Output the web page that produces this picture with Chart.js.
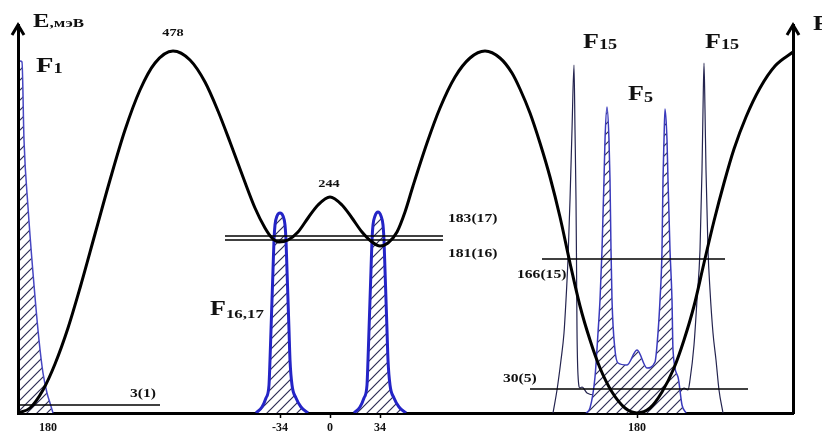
<!DOCTYPE html>
<html lang="ru">
<head>
<meta charset="UTF-8">
<title>Потенциал и распределения</title>
<script src="https://cdn.jsdelivr.net/npm/chart.js"></script>
<style>
  html, body { margin: 0; padding: 0; background: #fff; }
  #wrap { width: 822px; height: 433px; }
</style>
</head>
<body>
<div id="wrap"><canvas id="grafico"></canvas></div>
<script>
// схема: x - угол (условные единицы), y - энергия (условные единицы)
const tickPos = [30, 262, 312, 362, 619];
const tickText = ['180', '-34', '0', '34', '180'];

// потенциальная кривая
const potX = [0,12,25,37,50,62,77,92,107,122,137,155,172,187,200,212,225,237,247,254,261,270,280,290,300,312,324,334,344,354,362,370,379,387,395,409,422,437,452,467,482,494,502,512,522,532,542,552,562,572,582,594,607,619,632,644,656,666,676,686,696,706,716,728,742,757,775];
const potE = [0,5,23,49,85,125,179,233,283,323,350,362,353,331,302,271,236,205,185,175,171,173,181,195,208,216,208,195,181,171,167,170,181,201,227,270,305,336,355,362,355,340,324,300,270,236,196,150,107,73,45,21,5,0,5,21,45,73,107,150,192,230,264,296,325,347,361];

// уровни энергии
const lvlE = [8, 177, 173, 154, 24];
const lvlFrom = [0, 207, 207, 524, 512];
const lvlTo = [142, 425, 425, 707, 730];

// F1
const f1X = [2,4,6,10,15,21,25,29,32,35];
const f1Y = [352,351,273,206,140,73,40,20,10,0];

// F16,17
const f16X = [238,244,248,251,252,253,254,255,256,257,259,262,265,267,268,269,270,271,272,274,278,283,290];
const f16Y = [0,6,15,28,53,83,113,143,173,188,197,200,197,188,173,143,113,83,53,28,15,6,0];
const f17X = [336,342,346,349,350,351,352,353,354,355,357,360,363,365,366,367,368,369,370,372,376,381,388];
const f17Y = [0,6,15,28,53,83,113,143,173,188,197,201,197,188,173,143,113,83,53,28,15,6,0];

// F5
const f5X = [568,572,577,580,582,584,586,587,589,591,592,593,594,597,600,609,619,629,637,640,642,644,645,646,647,649,650,652,654,655,660,664,668];
const f5Y = [0,5,36,80,113,163,233,273,306,273,233,163,113,63,50,48,63,45,51,80,113,163,233,273,304,273,233,163,113,63,36,8,0];

// F15
const f15X = [535,539,543,546,548,550,552,554,556,557,558,558.5,559,560,562,564,569,577,657,662,666,670,672,676,679,682,684,685,686,687,688,690,692,695,698,701,705];
const f15Y = [0,23,53,80,113,154,213,283,348,283,213,153,83,38,25,26,20,18,18,21,25,23,33,68,113,163,243,303,350,303,243,163,123,80,53,23,0];

const serif = "'Liberation Serif', 'DejaVu Serif', serif";
const rastyag = 1.3; // текст в оригинале растянут по горизонтали

// подписи: текст, индекс, положение в единицах графика
const podpisi = [
  { t: 'E', s: ',мэВ', x: 15, y: 386, size: 19, sub: 13, dy: 0 },
  { t: 'F', s: '1', x: 18, y: 341, size: 22, sub: 14, dy: 1 },
  { t: '478', x: 155, y: 377, size: 11, align: 'center' },
  { t: '244', x: 311, y: 226, size: 11, align: 'center' },
  { t: '183(17)', x: 430, y: 191, size: 12 },
  { t: '181(16)', x: 430, y: 156, size: 12 },
  { t: 'F', s: '16,17', x: 192, y: 98, size: 20, sub: 13, dy: 3 },
  { t: '166(15)', x: 499, y: 135, size: 12 },
  { t: '30(5)', x: 485, y: 31, size: 12 },
  { t: '3(1)', x: 112, y: 16, size: 12 },
  { t: 'F', s: '15', x: 565, y: 365, size: 20, sub: 14, dy: 1 },
  { t: 'F', s: '15', x: 687, y: 365, size: 20, sub: 14, dy: 1 },
  { t: 'F', s: '5', x: 610, y: 313, size: 20, sub: 14, dy: 2 },
  { t: 'F', x: 795, y: 383, size: 20 }
];

function pts(xs, ys) { return xs.map((x, i) => ({ x: x, y: ys[i] })); }

// штриховка
const tile = document.createElement('canvas');
tile.width = 10; tile.height = 10;
const tg = tile.getContext('2d');
tg.fillStyle = '#fff'; tg.fillRect(0, 0, 10, 10);
tg.strokeStyle = '#2e2e55'; tg.lineWidth = 1.2;
tg.beginPath();
tg.moveTo(-1, 11); tg.lineTo(11, -1);
tg.moveTo(-6, 6); tg.lineTo(6, -6);
tg.moveTo(4, 16); tg.lineTo(16, 4);
tg.stroke();
const shtrih = tg.createPattern(tile, 'repeat');

const datasets = [
  { data: pts(potX, potE), borderColor: '#000', borderWidth: 3, fill: false, order: 1 },
  { data: pts(f1X, f1Y), borderColor: '#4646c2', borderWidth: 1.5, fill: 'origin', backgroundColor: shtrih, order: 4 },
  { data: pts(f16X, f16Y), borderColor: '#2424c6', borderWidth: 3, fill: 'origin', backgroundColor: shtrih, order: 4 },
  { data: pts(f17X, f17Y), borderColor: '#2424c6', borderWidth: 3, fill: 'origin', backgroundColor: shtrih, order: 4 },
  { data: pts(f5X, f5Y), borderColor: '#3a3abc', borderWidth: 1.5, fill: 'origin', backgroundColor: shtrih, order: 4 },
  { data: pts(f15X, f15Y), borderColor: '#24244f', borderWidth: 1.2, fill: false, order: 6 }
];
lvlE.forEach((e, i) => {
  datasets.push({ data: [{ x: lvlFrom[i], y: e }, { x: lvlTo[i], y: e }], borderColor: '#000', borderWidth: 1.4, fill: false, order: 2 });
});

function tekst(ctx, str, px, py) {
  ctx.save();
  ctx.translate(px, py);
  ctx.scale(rastyag, 1);
  ctx.fillText(str, 0, 0);
  ctx.restore();
}

const risovka = {
  id: 'risovka',
  afterDraw(chart) {
    const { ctx, chartArea: a, scales: { x, y } } = chart;
    ctx.save();
    // стрелки осей
    ctx.strokeStyle = '#000'; ctx.lineWidth = 3;
    [a.left, a.right].forEach(px => {
      ctx.beginPath();
      ctx.moveTo(px - 6, a.top + 10); ctx.lineTo(px, a.top); ctx.lineTo(px + 6, a.top + 10);
      ctx.stroke();
    });
    // подписи
    ctx.fillStyle = '#111'; ctx.textBaseline = 'alphabetic'; ctx.textAlign = 'left';
    podpisi.forEach(p => {
      let px = x.getPixelForValue(p.x);
      const py = y.getPixelForValue(p.y);
      ctx.font = 'bold ' + p.size + 'px ' + serif;
      const w = ctx.measureText(p.t).width * rastyag;
      let sw = 0;
      if (p.s) { ctx.font = 'bold ' + p.sub + 'px ' + serif; sw = ctx.measureText(p.s).width * rastyag; }
      if (p.align === 'center') px -= (w + sw) / 2;
      ctx.font = 'bold ' + p.size + 'px ' + serif;
      tekst(ctx, p.t, px, py);
      if (p.s) {
        ctx.font = 'bold ' + p.sub + 'px ' + serif;
        tekst(ctx, p.s, px + w, py + p.dy);
      }
    });
    ctx.restore();
  }
};

new Chart(document.getElementById('grafico'), {
  type: 'line',
  data: { datasets: datasets },
  plugins: [risovka],
  options: {
    responsive: true,
    maintainAspectRatio: false,
    animation: false,
    layout: { padding: { left: 18, right: 29, top: 25, bottom: 0 } },
    elements: { point: { radius: 0 }, line: { cubicInterpolationMode: 'monotone' } },
    plugins: { legend: { display: false }, tooltip: { enabled: false } },
    scales: {
      x: {
        type: 'linear', min: 0, max: 775,
        afterFit: s => { s.height = 20; },
        afterBuildTicks: s => { s.ticks = tickPos.map(v => ({ value: v })); },
        grid: { drawOnChartArea: false, drawTicks: true, tickLength: 5, tickWidth: 1.5,
                tickColor: c => c.index === 0 ? 'rgba(0,0,0,0)' : '#000' },
        border: { display: true, color: '#000', width: 3 },
        ticks: { autoSkip: false, maxRotation: 0, padding: 3, color: '#111',
                 font: { family: serif, size: 12, weight: 'bold' },
                 callback: (v, i) => tickText[i] }
      },
      y: {
        min: 0, max: 388, position: 'left',
        afterFit: s => { s.width = 0; },
        ticks: { display: false },
        grid: { display: false, drawTicks: false },
        border: { display: true, color: '#000', width: 3 }
      },
      y2: {
        min: 0, max: 388, position: 'right',
        afterFit: s => { s.width = 0; },
        ticks: { display: false },
        grid: { display: false, drawTicks: false },
        border: { display: true, color: '#000', width: 3 }
      }
    }
  }
});
</script>
</body>
</html>
